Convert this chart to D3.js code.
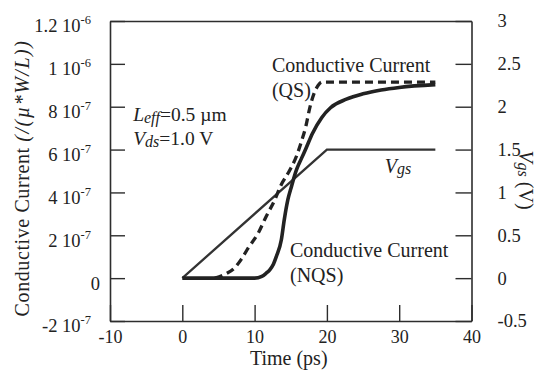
<!DOCTYPE html>
<html>
<head>
<meta charset="utf-8">
<script src="https://cdn.jsdelivr.net/npm/d3@7"></script>
<style>
  body { margin: 0; background: #fff; }
  svg text { font-family: "Liberation Serif", "Times New Roman", serif; fill: #222; }
</style>
</head>
<body>
<svg id="chart" width="543" height="373" font-family="Liberation Serif, serif"></svg>
<script>
// current values are in units of 1e-7 (per µ*W/L), time in ps, Vgs in volts
let vgsTime = [0, 20, 35];
let vgsVolts = [0, 1.5, 1.5];

let qsTime = [4.5, 6, 7.2, 8.2, 9.1, 10.5, 11.6, 12.8, 13.6, 14.8, 15.8, 16.5, 17.1, 17.6, 18.2, 18.8, 19.3, 25, 30, 35];
let qsCurrent = [0, 0.2, 0.47, 0.9, 1.4, 2.1, 2.88, 3.66, 4.3, 5.0, 5.7, 6.4, 7.1, 7.9, 8.6, 9.0, 9.15, 9.15, 9.15, 9.15];

let nqsTime = [0, 10, 11, 11.6, 12.1, 12.6, 13.0, 13.7, 14.1, 14.6, 15.1, 15.8, 16.5, 17.1, 18.0, 19.3, 20.5, 22.7, 25, 27.5, 30, 35];
let nqsCurrent = [0, 0, 0.08, 0.23, 0.39, 0.65, 1.0, 1.79, 2.72, 3.66, 4.28, 5.06, 5.6, 6.05, 6.75, 7.5, 7.95, 8.35, 8.6, 8.78, 8.9, 9.03];

let xTicks = [-10, 0, 10, 20, 30, 40];
let xLabels = ["-10", "0", "10", "20", "30", "40"];
let leftTicks = [-2, 0, 2, 4, 6, 8, 10, 12];
let leftMant = ["-2", "0", "2", "4", "6", "8", "1", "1.2"];
let leftExp = ["-7", "", "-7", "-7", "-7", "-7", "-6", "-6"];
let rightTicks = [-0.5, 0, 0.5, 1, 1.5, 2, 2.5, 3];
let rightLabels = ["-0.5", "0", "0.5", "1", "1.5", "2", "2.5", "3"];

let svg = d3.select("#chart");
let pLeft = 110, pRight = 471.5, pTop = 21, pBottom = 321;

let x = d3.scaleLinear().domain([-10, 40]).range([pLeft, pRight]);
let y = d3.scaleLinear().domain([-2, 12]).range([pBottom, pTop]);
let yV = d3.scaleLinear().domain([-0.5, 3]).range([pBottom, pTop]);

let ink = "#2d2d2d";
let serif = "Liberation Serif, Times New Roman, serif";

// frame (top line)
svg.append("g")
    .attr("transform", "translate(0," + pTop + ")")
    .call(d3.axisTop(x).tickValues([]).tickSizeOuter(0));

// bottom axis, ticks pointing in
let xa = svg.append("g")
    .attr("transform", "translate(0," + pBottom + ")")
    .call(d3.axisBottom(x).tickValues(xTicks).tickSizeInner(-16).tickSizeOuter(0)
        .tickFormat((d, i) => xLabels[i]).tickPadding(26));
xa.selectAll("text").attr("font-size", 18).attr("dy", "-0.2em");

// left axis
let ya = svg.append("g")
    .attr("transform", "translate(" + pLeft + ",0)")
    .call(d3.axisLeft(y).tickValues(leftTicks).tickSizeInner(-15).tickSizeOuter(0).tickFormat(""));
ya.selectAll(".tick").each(function(d, i) {
    let t = d3.select(this).append("text")
        .attr("x", leftExp[i] ? -19 : -10)
        .attr("y", 5)
        .attr("dy", "0.32em")
        .attr("text-anchor", "end")
        .attr("font-size", 18.5);
    t.append("tspan").text(leftMant[i] + (leftExp[i] ? " 10" : ""));
    if (leftExp[i]) {
        t.append("tspan").attr("font-size", 12.5).attr("dy", -8).text(leftExp[i]);
    }
});

// right axis
let yr = svg.append("g")
    .attr("transform", "translate(" + pRight + ",0)")
    .call(d3.axisRight(yV).tickValues(rightTicks).tickSizeInner(-16).tickSizeOuter(0)
        .tickFormat((d, i) => rightLabels[i]).tickPadding(26));
yr.selectAll("text").attr("font-size", 18.5);

svg.selectAll("g").attr("font-family", serif);
svg.selectAll(".domain").attr("stroke", ink).attr("stroke-width", 1.6);
svg.selectAll(".tick line").attr("stroke", ink).attr("stroke-width", 1.4);
svg.selectAll(".tick text").attr("fill", "#222");

// curves
let line = d3.line().x(d => x(d[0])).y(d => y(d[1])).curve(d3.curveMonotoneX);
let vLine = d3.line().x(d => x(d[0])).y(d => yV(d[1]));

svg.append("path")
    .datum(d3.zip(vgsTime, vgsVolts))
    .attr("d", vLine)
    .attr("fill", "none").attr("stroke", "#333").attr("stroke-width", 2.3);

svg.append("path")
    .datum(d3.zip(qsTime, qsCurrent))
    .attr("d", line)
    .attr("fill", "none").attr("stroke", "#222").attr("stroke-width", 3.3)
    .attr("stroke-dasharray", "8,5");

svg.append("path")
    .datum(d3.zip(nqsTime, nqsCurrent))
    .attr("d", line)
    .attr("fill", "none").attr("stroke", "#222").attr("stroke-width", 3.6);

// annotations
let fs = 20;
svg.append("text").attr("x", x(12.4)).attr("y", y(9.63)).attr("font-size", fs).text("Conductive Current");
svg.append("text").attr("x", x(12.4)).attr("y", y(8.46)).attr("font-size", fs).text("(QS)");
svg.append("text").attr("x", x(14.9)).attr("y", y(1.01)).attr("font-size", fs).text("Conductive Current");
svg.append("text").attr("x", x(14.9)).attr("y", y(-0.16)).attr("font-size", fs).text("(NQS)");

let leff = svg.append("text").attr("x", x(-6.8)).attr("y", y(7.33)).attr("font-size", 19.5);
leff.append("tspan").attr("font-style", "italic").text("L");
leff.append("tspan").attr("font-style", "italic").attr("font-size", 16).attr("dy", 1.5).text("eff");
leff.append("tspan").attr("dy", -1.5).text("=0.5 µm");

let vds = svg.append("text").attr("x", x(-6.8)).attr("y", y(6.2)).attr("font-size", 19.5);
vds.append("tspan").attr("font-style", "italic").text("V");
vds.append("tspan").attr("font-style", "italic").attr("font-size", 16).attr("dy", 1.5).text("ds");
vds.append("tspan").attr("dy", -1.5).text("=1.0 V");

let vg = svg.append("text").attr("x", x(28.0)).attr("y", y(4.9)).attr("font-size", fs).attr("font-style", "italic");
vg.append("tspan").text("V");
vg.append("tspan").attr("font-size", 16).attr("dy", 1).text("gs");

// axis titles
svg.append("text")
    .attr("x", (pLeft + pRight) / 2 - 2).attr("y", 365)
    .attr("text-anchor", "middle").attr("font-size", 20)
    .text("Time (ps)");

let yl = svg.append("text")
    .attr("transform", "translate(29,178) rotate(-90)")
    .attr("text-anchor", "middle").attr("font-size", 20).attr("letter-spacing", 0.6);
yl.append("tspan").text("Conductive Current ");
yl.append("tspan").attr("font-style", "italic").attr("letter-spacing", 1.5).text("(/(µ*W/L))");

let yr2 = svg.append("text")
    .attr("transform", "translate(519,180) rotate(90)")
    .attr("text-anchor", "middle").attr("font-size", 20);
yr2.append("tspan").attr("font-style", "italic").text("V");
yr2.append("tspan").attr("font-style", "italic").attr("font-size", 16).attr("dy", 1).text("gs");
yr2.append("tspan").attr("dy", -1).text(" (V)");
</script>
</body>
</html>
